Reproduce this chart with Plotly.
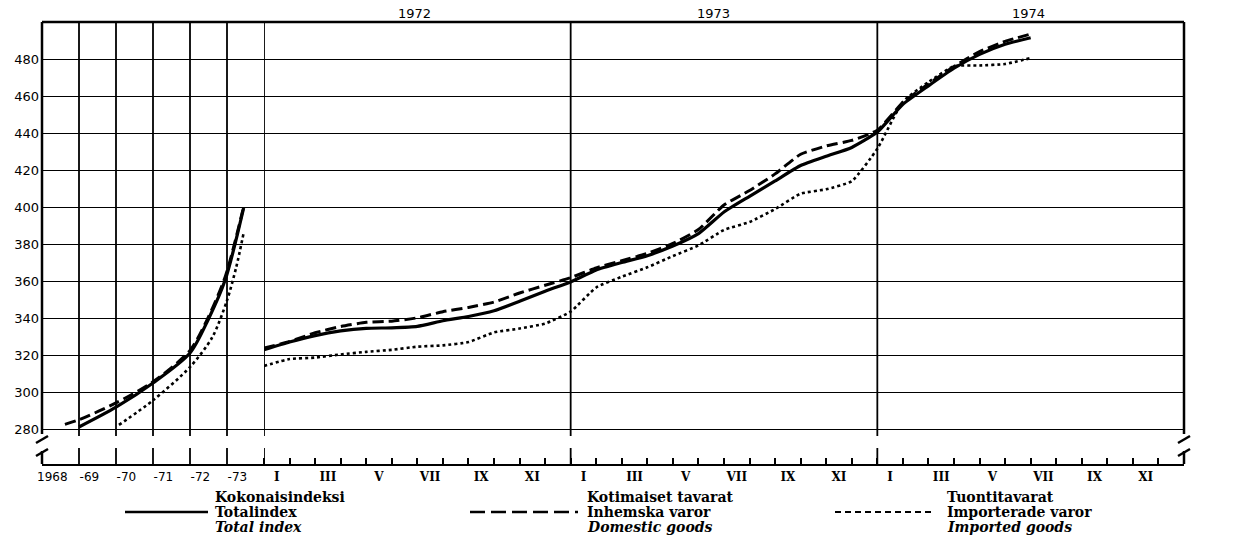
import plotly.graph_objects as go

# ---------------- data ----------------
# Annual section (decimal year positions, 1968 .. 1974)
ann_total_x = [1969.0, 1970.0, 1971.0, 1972.0, 1972.5, 1972.95, 1973.45]
ann_total_y = [281.6, 292.3, 305.4, 321.6, 340.0, 361.0, 400.0]
ann_dom_x = [1968.62, 1969.0, 1970.0, 1971.0, 1972.0, 1972.46, 1972.95, 1973.43]
ann_dom_y = [283.0, 285.5, 294.6, 306.0, 323.0, 339.5, 362.7, 399.0]
ann_imp_x = [1970.08, 1971.0, 1972.0, 1972.6, 1973.0, 1973.25, 1973.45]
ann_imp_y = [282.7, 296.0, 314.0, 330.0, 350.0, 368.0, 386.5]

# Monthly section: month-end positions, 0 = start of 1972 ... 30 = end of June 1974
month_pos = list(range(0, 31))
mon_total = [323.3, 327.5, 331.0, 333.5, 334.9, 335.2, 336.0, 339.0, 341.3, 344.4, 349.5, 355.0,
             360.0, 366.5, 370.5, 374.2, 379.4, 386.1, 397.8, 406.3, 414.6, 422.9, 427.9, 432.7,
             441.0, 456.0, 466.0, 475.5, 483.0, 488.5, 492.0]
mon_dom = [324.2, 327.8, 332.5, 335.9, 338.2, 338.8, 340.6, 343.9, 346.2, 349.1, 354.0, 358.2,
           362.3, 367.6, 371.5, 375.4, 380.8, 388.3, 401.6, 409.4, 418.4, 429.0, 433.5, 436.5,
           442.0, 457.0, 467.0, 476.5, 484.5, 490.0, 494.0]
mon_imp = [314.6, 318.3, 319.1, 320.8, 322.2, 323.3, 325.0, 325.7, 327.5, 332.7, 334.8, 337.5,
           344.0, 357.0, 362.8, 367.9, 374.0, 379.7, 388.1, 392.4, 399.4, 407.7, 410.1, 414.5,
           432.0, 457.4, 468.0, 476.6, 477.0, 477.8, 481.0]

y_ticks = [280, 300, 320, 340, 360, 380, 400, 420, 440, 460, 480]
year_tick_pos = [1968.28, 1969.28, 1970.28, 1971.28, 1972.28, 1973.28]
year_tick_text = ["1968", "-69", "-70", "-71", "-72", "-73"]
month_label_pos = [0.5, 2.5, 4.5, 6.5, 8.5, 10.5, 12.5, 14.5, 16.5, 18.5, 20.5, 22.5,
                   24.5, 26.5, 28.5, 30.5, 32.5, 34.5]
month_label_text = ["I", "III", "V", "VII", "IX", "XI"] * 3
top_years = ["1972", "1973", "1974"]
top_year_pos = [5.9, 17.6, 29.9]
legend_rows = [
    ["Kokonaisindeksi", "Totalindex", "Total index"],
    ["Kotimaiset tavarat", "Inhemska varor", "Domestic goods"],
    ["Tuontitavarat", "Importerade varor", "Imported goods"],
]

# ---------------- geometry ----------------
W, H = 1247, 547
L, R, T, B = 42, 63, 22, 83
PW, PH = W - L - R, H - T - B          # 1142 x 442
AXIS_PX = H - B                        # 464
YMAX = 500.5
YMIN = YMAX - PH / 1.85
split = 222 / PW                       # annual part of the width

def px_to_paper_x(px):
    return (px - L) / PW

def px_to_paper_y(py):
    return (AXIS_PX - py) / PH

def py_to_val(py):
    return YMIN + (AXIS_PX - py) / PH * (YMAX - YMIN)

fig = go.Figure()

solid = dict(color="black", width=3.2)
dashed = dict(color="black", width=3, dash="11px,5px")
dotted = dict(color="black", width=2.6, dash="3px,3px")

for xs, ys, ln in [(ann_total_x, ann_total_y, solid),
                   (ann_dom_x, ann_dom_y, dashed),
                   (ann_imp_x, ann_imp_y, dotted)]:
    fig.add_trace(go.Scatter(x=xs, y=ys, mode="lines", line=dict(**ln, shape="spline", smoothing=0.8),
                             xaxis="x", yaxis="y", showlegend=False, hoverinfo="skip"))

for ys, ln in [(mon_imp, dotted), (mon_dom, dashed), (mon_total, solid)]:
    fig.add_trace(go.Scatter(x=month_pos, y=ys, mode="lines", line=dict(**ln, shape="spline", smoothing=0.5),
                             xaxis="x2", yaxis="y", showlegend=False, hoverinfo="skip"))

num_font = dict(family="DejaVu Sans", size=12, color="black")
ynum_font = dict(family="DejaVu Sans", size=13, color="black")

fig.update_layout(
    width=W, height=H,
    margin=dict(l=L, r=R, t=T, b=B),
    paper_bgcolor="white", plot_bgcolor="white",
    xaxis=dict(domain=[0, split], range=[1968, 1974], anchor="y",
               tickvals=year_tick_pos, ticktext=year_tick_text, ticks="",
               tickfont=num_font, showgrid=False, zeroline=False,
               showline=True, linecolor="black", linewidth=2.2),
    xaxis2=dict(domain=[split, 1], range=[0, 36], anchor="y",
                tickvals=month_label_pos, ticktext=month_label_text, ticks="",
                tickfont=dict(family="DejaVu Serif", size=12, color="black", weight="bold"),
                showgrid=False, zeroline=False,
                showline=True, linecolor="black", linewidth=2.2,
                minor=dict(ticks="inside", ticklen=6, tickwidth=1.6, tickcolor="black",
                           tick0=0, dtick=1, showgrid=False)),
    yaxis=dict(range=[YMIN, YMAX], tickvals=y_ticks, ticks="", tickfont=ynum_font,
               showgrid=True, gridcolor="black", gridwidth=1.3, zeroline=False,
               showline=False, ticklabelstandoff=2),
    yaxis2=dict(range=[YMIN, YMAX], tickvals=y_ticks, ticks="", tickfont=num_font,
                overlaying="y", side="right", anchor="x2", showgrid=False,
                zeroline=False, showline=False, ticklabelstandoff=9),
)

shapes = []
gap_val = py_to_val(436)
# vertical grid lines (stop just below the 280 line)
for yr in [1969, 1970, 1971, 1972, 1973]:
    shapes.append(dict(type="line", xref="x", yref="y", x0=yr, x1=yr, y0=gap_val, y1=YMAX,
                       line=dict(color="black", width=1.8)))
for m in [0, 12, 24]:
    shapes.append(dict(type="line", xref="x2", yref="y", x0=m, x1=m, y0=gap_val, y1=YMAX,
                       line=dict(color="black", width=1.8)))
# long ticks on bottom axis at year boundaries
tick_top = py_to_val(448)
for yr in [1969, 1970, 1971, 1972, 1973]:
    shapes.append(dict(type="line", xref="x", yref="y", x0=yr, x1=yr, y0=YMIN, y1=tick_top,
                       line=dict(color="black", width=1.8)))
for m in [0, 12, 24]:
    shapes.append(dict(type="line", xref="x2", yref="y", x0=m, x1=m, y0=YMIN, y1=tick_top,
                       line=dict(color="black", width=1.8)))
# top border
shapes.append(dict(type="line", xref="paper", yref="paper", x0=0, x1=1, y0=1, y1=1,
                   line=dict(color="black", width=2.5)))
# left / right borders with axis-break marks
off = 6 / PW
for xp in [0.0, 1.0]:
    shapes.append(dict(type="line", xref="paper", yref="paper", x0=xp, x1=xp,
                       y0=px_to_paper_y(434), y1=1, line=dict(color="black", width=2.5)))
    shapes.append(dict(type="line", xref="paper", yref="paper", x0=xp, x1=xp,
                       y0=0, y1=px_to_paper_y(451), line=dict(color="black", width=2.5)))
    shapes.append(dict(type="line", xref="paper", yref="paper", x0=xp - off, x1=xp + off,
                       y0=px_to_paper_y(443), y1=px_to_paper_y(436), line=dict(color="black", width=2.5)))
    shapes.append(dict(type="line", xref="paper", yref="paper", x0=xp - off, x1=xp + off,
                       y0=px_to_paper_y(456), y1=px_to_paper_y(449), line=dict(color="black", width=2.5)))

# legend samples
leg_line_y = px_to_paper_y(512)
for (x0, x1), ln in [((125, 208), dict(color="black", width=2.6)),
                     ((470, 578), dict(color="black", width=2.6, dash="15px,6px")),
                     ((835, 935), dict(color="black", width=2.2, dash="6px,4px"))]:
    shapes.append(dict(type="line", xref="paper", yref="paper",
                       x0=px_to_paper_x(x0), x1=px_to_paper_x(x1), y0=leg_line_y, y1=leg_line_y,
                       line=ln))
fig.update_layout(shapes=shapes)

ann = []
for t, p in zip(top_years, top_year_pos):
    ann.append(dict(text=t, xref="x2", yref="paper", x=p, y=px_to_paper_y(13),
                    xanchor="center", yanchor="middle", showarrow=False,
                    font=dict(family="DejaVu Sans", size=13, color="black")))
leg_x = [213, 585, 945]
row_y = [497, 512, 527]
for col, texts in enumerate(legend_rows):
    for r, t in enumerate(texts):
        f = dict(family="DejaVu Serif", size=14, color="black", weight="bold")
        if r == 2:
            f["style"] = "italic"
        ann.append(dict(text=t, xref="paper", yref="paper", x=px_to_paper_x(leg_x[col]),
                        y=px_to_paper_y(row_y[r]), xanchor="left", yanchor="middle",
                        showarrow=False, font=f))
fig.update_layout(annotations=ann)

fig.write_html("out.html", config={"displayModeBar": False},
               post_script="document.body.style.margin='0px';document.body.style.overflow='hidden';")
